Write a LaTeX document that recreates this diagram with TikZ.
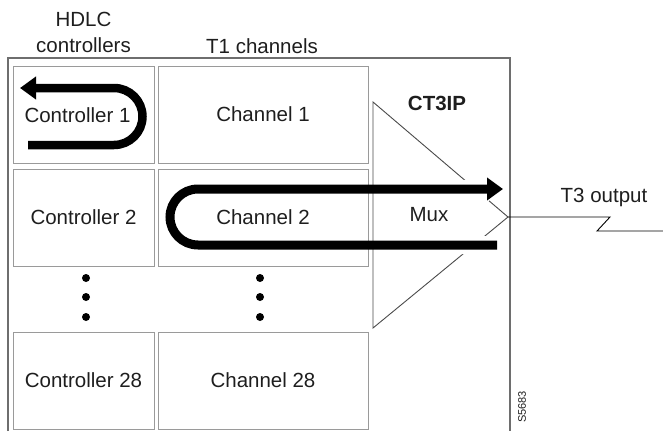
\documentclass[tikz,border=0pt]{standalone}
\usepackage{fontspec}
\setmainfont{Liberation Sans}
\usepackage{tikz}
\usetikzlibrary{arrows.meta,positioning,calc}
\usepackage{xcolor}
\definecolor{boxgray}{HTML}{9A9A9A}
\definecolor{framegray}{HTML}{6E6E6E}
\definecolor{muxgray}{HTML}{4A4A4A}
\definecolor{txt}{HTML}{1E1E1E}
\newcommand{\lblsize}{\fontsize{20.5}{25}\selectfont}
\tikzset{
  ctlbox/.style={draw=boxgray, line width=1pt, rectangle, minimum height=97pt, minimum width=141pt, inner sep=0pt, text=txt, font=\lblsize},
  chbox/.style={ctlbox, minimum width=210pt},
  lbl/.style={text=txt, font=\lblsize, inner sep=0pt},
  flow/.style={line width=9pt, -{Triangle[length=16pt, width=22pt]}},
  halo/.style={white, line width=18pt, -{Triangle[length=20pt, width=32pt]}},
  vdot/.style={circle, fill=black, minimum size=8pt, inner sep=0pt},
}

\begin{document}
\begin{tikzpicture}[x=1pt, y=-1pt, node distance=5pt and 3pt]
\useasboundingbox (0,0) rectangle (663,431);
\draw[framegray, line width=1.2pt] (8,431) -- (8,58) -- (510,58) -- (510,431);
\node[ctlbox] (ctl1) at (83.5,114.5) {};
\node[chbox, right=of ctl1] (ch1) {Channel 1};
\node[ctlbox, below=of ctl1] (ctl2) {Controller 2};
\node[chbox, right=of ctl2] (ch2) {Channel 2};
\node[ctlbox, below=65pt of ctl2] (ctl28) {Controller 28};
\node[chbox, right=of ctl28] (ch28) {Channel 28};
\node[lbl] (ctl1txt) at ($(ctl1.center)+(-6,1)$) {Controller 1};
\node[lbl, anchor=base] (hdlc) at (83.5,27) {HDLC};
\node[lbl, anchor=base] (hdlcsub) at (83.5,52) {controllers};
\node[lbl, anchor=base] (t1lbl) at (262,53) {T1 channels};
\foreach \y [count=\i] in {278,297,317} {
  \node[vdot] (cdot\i) at (86,\y) {};
  \node[vdot] (hdot\i) at (260,\y) {};
}
\coordinate (muxtop) at (373,102);
\coordinate (muxtip) at (508,217);
\coordinate (muxbot) at (373,328);
\draw[muxgray, line width=0.9pt] (muxtop) -- (muxtip) -- (muxbot) -- cycle;
\node[lbl, font=\lblsize\bfseries] (ct3ip) at (437,103) {CT3IP};
\node[lbl] (mux) at (429,215) {Mux};
\coordinate (loopin) at (497,245);
\coordinate (loopout) at (503,189);
\begin{scope}
\clip (377,150) rectangle (507,290);
\draw[halo] (loopin) -- (198,245) arc[start angle=90, end angle=270, radius=28] -- (loopout);
\end{scope}
\draw[flow] (loopin) -- (198,245) arc[start angle=90, end angle=270, radius=28] -- (loopout);
\coordinate (retin) at (28,145);
\coordinate (retout) at (20,88);
\draw[flow, line width=8.5pt] (retin) -- (114,145) arc[start angle=90, end angle=-90, radius=28.5] -- (retout);
\coordinate (t3a) at (610,217);
\coordinate (t3b) at (597,231);
\coordinate (t3end) at (663,231);
\draw[black, line width=0.9pt] (muxtip) -- (t3a) -- (t3b) -- (t3end);
\node[lbl, anchor=base] (t3) at (604,202) {T3 output};
\node[lbl, font=\fontsize{11}{13}\selectfont, rotate=90] (fig) at (522,407) {S5683};
\end{tikzpicture}
\end{document}
